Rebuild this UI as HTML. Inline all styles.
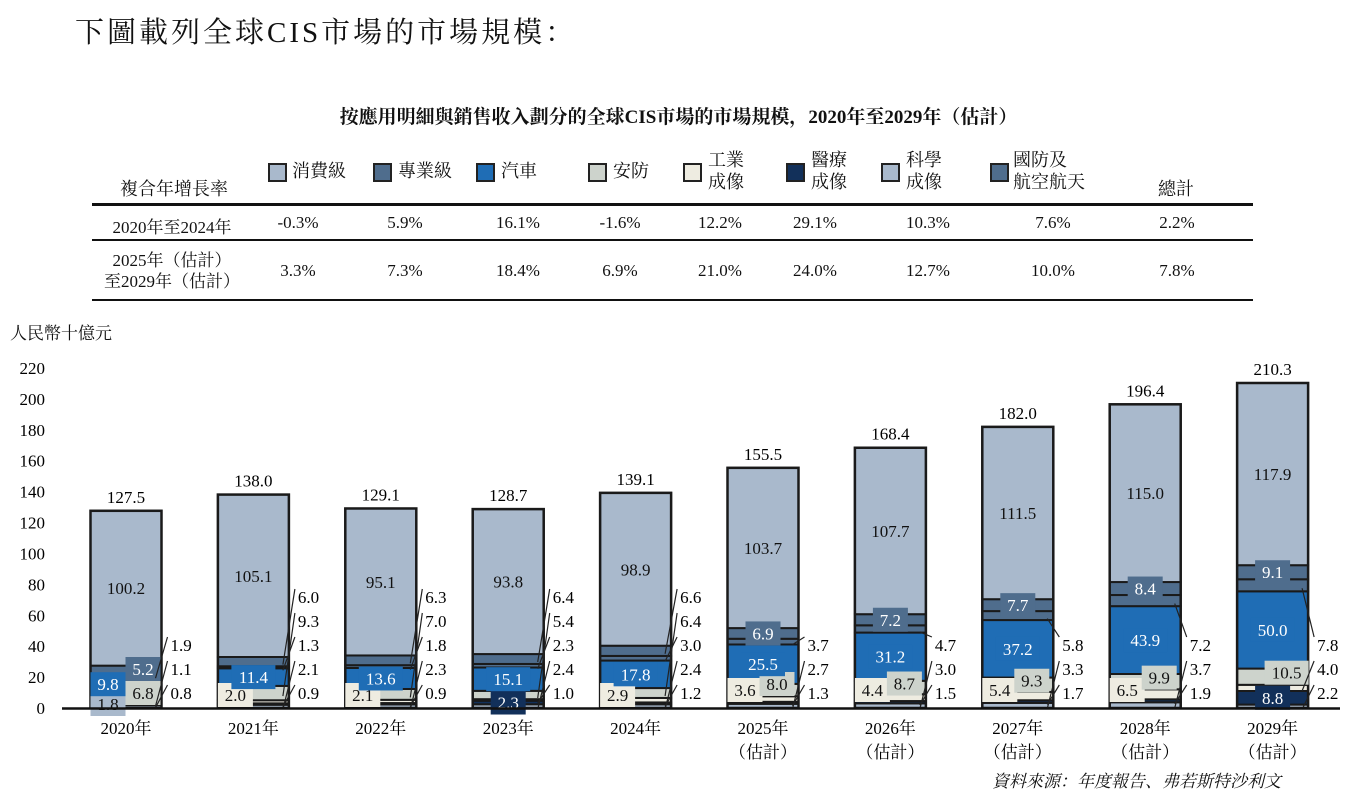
<!DOCTYPE html>
<html><head><meta charset="utf-8">
<style>
body{margin:0;width:1357px;height:795px;background:#fff;overflow:hidden;font-family:"Liberation Serif","Noto Serif CJK SC",serif;color:#111;position:relative}
.a{position:absolute;white-space:nowrap}
.sw{position:absolute;width:15px;height:15px;border:2px solid #222}
.ln{position:absolute;left:92px;width:1161px;background:#111}
.c{position:absolute;transform:translateX(-50%);font-size:17px;white-space:nowrap}
.lg{position:absolute;font-size:18px;line-height:22px}
</style></head><body>
<div class="a" style="left:75px;top:10px;font-size:29px;letter-spacing:3px">下圖載列全球CIS市場的市場規模：</div>
<div class="a" style="left:0;width:1357px;text-align:center;top:102px;font-size:19px;font-weight:bold">按應用明細與銷售收入劃分的全球CIS市場的市場規模，2020年至2029年（估計）</div>

<div>
<div class="a" style="left:120px;top:175px;font-size:18px">複合年增長率</div>
<div class="sw" style="left:268px;top:163px;background:#a9b9cc"></div><div class="lg" style="left:292px;top:160px">消費級</div>
<div class="sw" style="left:373px;top:163px;background:#4f6d8d"></div><div class="lg" style="left:398px;top:160px">專業級</div>
<div class="sw" style="left:476px;top:163px;background:#1f6db5"></div><div class="lg" style="left:501px;top:160px">汽車</div>
<div class="sw" style="left:588px;top:163px;background:#cdd3cc"></div><div class="lg" style="left:613px;top:160px">安防</div>
<div class="sw" style="left:683px;top:163px;background:#eeece1"></div><div class="lg" style="left:708px;top:149px">工業<br>成像</div>
<div class="sw" style="left:786px;top:163px;background:#12305a"></div><div class="lg" style="left:811px;top:149px">醫療<br>成像</div>
<div class="sw" style="left:881px;top:163px;background:#a9b9cc"></div><div class="lg" style="left:906px;top:149px">科學<br>成像</div>
<div class="sw" style="left:990px;top:163px;background:#4f6d8d"></div><div class="lg" style="left:1013px;top:149px">國防及<br>航空航天</div>
<div class="a" style="left:1158px;top:175px;font-size:18px">總計</div>
<div class="ln" style="top:203px;height:3px"></div>
<div class="ln" style="top:239px;height:2px"></div>
<div class="ln" style="top:299px;height:2px"></div>
<div class="c" style="left:172px;top:213px">2020年至2024年</div>
<div class="c" style="left:172px;top:250px;text-align:center;line-height:21px">2025年（估計）<br>至2029年（估計）</div>
<div id="rows"></div>
</div>

<div class="a" style="left:10px;top:319px;font-size:17px">人民幣十億元</div>
<svg id="chart" style="position:absolute;left:0;top:0" width="1357" height="795"></svg>
<div class="a" style="left:992px;top:767px;font-size:17px;font-style:italic">資料來源：年度報告、弗若斯特沙利文</div>

<script>
const colCenters=[298,405,518,620,720,815,928,1053,1177];
const cagr1=["-0.3%","5.9%","16.1%","-1.6%","12.2%","29.1%","10.3%","7.6%","2.2%"];
const cagr2=["3.3%","7.3%","18.4%","6.9%","21.0%","24.0%","12.7%","10.0%","7.8%"];
const rows=document.getElementById('rows');
[[cagr1,213],[cagr2,261]].forEach(([arr,top],r)=>arr.forEach((v,i)=>{
 const d=document.createElement('div');d.className='c';
 
 
 d.style.left=colCenters[i]+'px';d.style.top=top+'px';d.textContent=v;rows.appendChild(d);}));

const years=["2020年","2021年","2022年","2023年","2024年","2025年","2026年","2027年","2028年","2029年"];
const totals=["127.5","138.0","129.1","128.7","139.1","155.5","168.4","182.0","196.4","210.3"];
// stack order bottom-up: science, medical, industrial, security, auto, defense, professional, consumer
const science=[1.8,2.1,2.3,2.4,2.4,2.7,3.0,3.3,3.7,2.2];
const medical=[0.8,0.9,0.9,2.3,1.2,1.3,1.5,1.7,1.9,8.8];
const industrial=[1.1,2.0,2.1,1.0,2.9,3.6,4.4,5.4,6.5,4.0];
const security=[6.8,9.3,7.0,5.4,6.4,8.0,8.7,9.3,9.9,10.5];
const auto=[9.8,11.4,13.6,15.1,17.8,25.5,31.2,37.2,43.9,50.0];
const defense=[1.9,1.3,1.8,2.3,3.0,3.7,4.7,5.8,7.2,7.8];
const professional=[5.2,6.0,6.3,6.4,6.6,6.9,7.2,7.7,8.4,9.1];
const consumer=[100.2,105.1,95.1,93.8,98.9,103.7,107.7,111.5,115.0,117.9];
const yTicks=[0,20,40,60,80,100,120,140,160,180,200,220];

const series=[science,medical,industrial,security,auto,defense,professional,consumer];
const sNames=['science','medical','industrial','security','auto','defense','professional','consumer'];
const colors=['#a9b9cc','#12305a','#eeece1','#cdd3cc','#1f6db5','#4f6d8d','#4f6d8d','#a9b9cc'];
const txtCol=['#111','#fff','#111','#111','#fff','#fff','#fff','#111'];
const inside=[[0,3,4,6,7],[2,4,7],[2,4,7],[1,4,7],[2,4,7],[2,3,4,6,7],[2,3,4,6,7],[2,3,4,6,7],[2,3,4,6,7],[1,3,4,6,7]];
// outside label order (bottom to top) per year, series indices
const outOrder=[[1,2,5],[1,0,5,3,6],[1,0,5,3,6],[2,0,5,3,6],[1,0,5,3,6],[1,0,5],[1,0,5],[1,0,5],[1,0,5],[0,2,5]];

const svg=document.getElementById('chart');const NS='http://www.w3.org/2000/svg';
function el(t,a,p){const e=document.createElementNS(NS,t);for(const k in a)e.setAttribute(k,a[k]);(p||svg).appendChild(e);return e;}
const y=v=>708-v*340/220;
const xC=i=>126+i*127.4;
const bw=71;
yTicks.forEach(t=>{const e=el('text',{x:45,y:y(t)+6,'text-anchor':'end','font-size':17});
 
 
 e.textContent=t;});
years.forEach((yr,i)=>{
 const g=el('g',{});
 
 
 let cum=0;const segs=[];
 series.forEach((s,k)=>{const v=s[i];const y0=y(cum),y1=y(cum+v);
  const r=el('rect',{x:xC(i)-bw/2,y:y1,width:bw,height:y0-y1,fill:colors[k],stroke:'#1a1a1a','stroke-width':2},g);
  
  
  segs.push([y0,y1]);cum+=v;});
 const o=el('rect',{x:xC(i)-bw/2,y:y(cum),width:bw,height:708-y(cum),fill:'none',stroke:'#1a1a1a','stroke-width':2.5},g);
 
 
 inside[i].forEach(k=>{const v=series[k][i];let cy=(segs[k][0]+segs[k][1])/2;let cx=xC(i);
  if(k==0&&i==0){cy=704;cx=xC(i)-18;}
  if(k==2){cx=xC(i)-18;cy=Math.min(cy,695);if(i>=5)cy=690;}
  if(k==3&&i>=5){cx=xC(i)+14;cy=Math.min(cy-4,684);}
  if(k==3&&i==0){cx=xC(i)+17;cy=693;}
  if(k==6&&i==0){cx=xC(i)+17;cy=669;}
  if(k==4&&i==0){cx=xC(i)-18;}
  const lab=v.toFixed(1);const w=lab.length*9+8;
  if(k!=7){const b=el('rect',{x:cx-w/2,y:cy-12,width:w,height:24,fill:colors[k]},g);
   
   }
  const t=el('text',{x:cx,y:cy+6,'text-anchor':'middle','font-size':17,fill:txtCol[k]},g);
  
  
  t.textContent=lab;});
 outOrder[i].forEach((k,j)=>{const ly=693-j*24;const lx=xC(i)+bw/2+6;
  const sy=(segs[k][0]+segs[k][1])/2;
  const l=el('line',{x1:xC(i)+bw/2-6,y1:sy+3,x2:lx,y2:ly-8,stroke:'#222','stroke-width':1.2},g);
  
  
  const t=el('text',{x:lx+3,y:ly+6,'font-size':17},g);
  
  
  t.textContent=series[k][i].toFixed(1);});
 const tt=el('text',{x:xC(i),y:y(cum)-8,'text-anchor':'middle','font-size':17},g);
 
 
 tt.textContent=totals[i];
 const xl=el('text',{x:xC(i),y:734,'text-anchor':'middle','font-size':17});
 
 
 xl.textContent=yr;
 if(i>=5){const e2=el('text',{x:xC(i),y:758,'text-anchor':'middle','font-size':17});
  
  
  e2.textContent='（估計）';}
});
const ax=el('line',{x1:62,y1:708.5,x2:1340,y2:708.5,stroke:'#111','stroke-width':2.5});


</script>
</body></html>
